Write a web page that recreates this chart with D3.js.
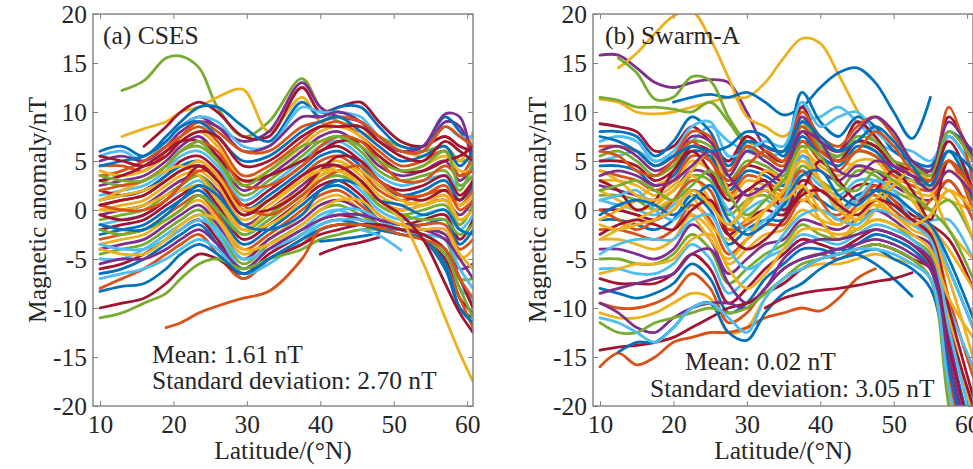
<!DOCTYPE html>
<meta charset="utf-8">
<style>
body { margin: 0; background: #fff; }
svg text { font-family: "Liberation Serif", "Times New Roman", serif; fill: #262626; }
.trace { fill: none; stroke-width: 2.8px; stroke-linejoin: round; stroke-linecap: round; }
.axis path { display: none; }
.axis line { stroke: #808080; }
.axis text { font-size: 25.5px; }
.frame { fill: none; stroke: #808080; stroke-width: 1.4px; }
.note { font-size: 25.5px; }
</style>
<svg width="973" height="469"></svg>
<script src="https://d3js.org/d3.v7.min.js"></script>
<script>

// tick values
var xTicks = [10, 20, 30, 40, 50, 60];
var yTicks = [-20, -15, -10, -5, 0, 5, 10, 15, 20];

// MATLAB default line colours
var palette = ["#0072BD", "#D95319", "#EDB120", "#7E2F8E", "#77AC30", "#4DBEEE", "#A2142F"];

// ---- (a) CSES : latitude grid and traces (nT) ----
var latA = [10, 13, 16, 19, 21, 23.5, 26, 29.5, 33, 37.5, 40, 42.5, 45.5, 48, 51, 54, 57, 59, 60.8];
var csesTraces = [
  [null, 12.2, 13.2, 15.5, 15.7, 14.5, 10.5, 7.5, 9, 13.4, 10.5, 9, 8.5, 7.5, 6.5, 6, 6.5, 5, 5.5],
  [null, 7.5, 8.3, 9, 10, 10.5, 11.5, 12.3, 8, 11.5, 9, 8.5, 8, 7, 6, 5.5, 6, 5, 8],
  [null, null, null, null, 8.5, 9.5, 8.5, 7, 8, 13, 10.5, 9.5, 9, 7.5, 6, 6, 9, 8.5, 5],
  [null, null, 6.5, 8.5, 10, 11, 10, 7.5, 7.5, 12.5, 10, 10.5, 11, 9, 7, 6.5, 7.5, 6.5, 6],
  [6, 6.5, 5.5, 7.5, 9, 10.5, 10.5, 8.5, 7, 11, 9.5, 10.5, 10.5, 8.5, 6.5, 6.5, 9.5, 8, 6.5],
  [5.5, 6, 5, 7, 8.5, 9.5, 9, 6.5, 6.5, 10.5, 10, 10, 9.5, 7.5, 6, 6, 8.5, 7.5, 7.5],
  [5, 5.5, 5, 6.5, 8, 9, 8.5, 6, 6.5, 9.5, 9.5, 10, 9, 7, 6, 6.5, 9.8, 9.5, 4],
  [4.5, 4.5, 4, 6, 7.5, 9, 8, 6, 6, 8.5, 9, 9.5, 9, 7.5, 6, 6, 8.5, 7.5, 6.5],
  [4.5, 5, 5.5, 7, 8.5, 9, 7.5, 5, 5.5, 8, 9, 9.5, 8, 6.5, 5, 5.5, 6.5, 4.5, 6],
  [3.5, 4, 5, 6.5, 7.5, 8.5, 7, 3.5, 4.5, 7, 8.5, 9, 7.5, 6, 4.5, 5, 6, 3.5, 5.5],
  [4, 3.5, 4, 5.5, 7, 8, 6.5, 3, 4, 6.5, 8, 8.5, 7.5, 5.5, 4, 4.5, 5.5, 4, 4],
  [2.5, 3, 3.5, 5, 6.5, 7.5, 5.5, 2, 3.5, 6, 7.5, 8, 6.5, 4.5, 3.5, 4, 5, 3, 4.5],
  [3, 2.5, 3, 4.5, 6, 6.5, 5, 1.5, 3, 5.5, 7, 7.5, 6, 4, 3, 3.5, 4, 2, 5],
  [1.5, 2, 2.5, 4, 5.5, 6, 4.5, 1, 2.5, 5, 6.5, 7, 5.5, 3.5, 2.5, 3, 3.5, 2.5, 3.5],
  [2, 1.5, 2, 3.5, 5, 5.5, 4, 0.5, 2, 4.5, 6, 6.5, 5, 3, 2, 2.5, 3.5, 1.5, 3],
  [1, 1.5, 2, 3.5, 4.5, 5, 3.5, 0, 1.5, 4, 5.5, 6, 4.5, 2.5, 1.5, 2, 3, 1, 2.5],
  [0.5, 1, 1.5, 3, 4, 4.5, 3, -0.5, 1, 3.5, 5, 5.5, 4, 2, 1, 1.5, 2, 0.5, 2],
  [0, 0.5, 1, 2.5, 3.5, 4, 2.5, -1, 0.5, 3, 4.5, 5, 3.5, 1.5, 0.5, 1, 1.5, 0.5, 1.5],
  [-0.5, 0, 0.5, 2, 3, 3.5, 2, -1.5, 0, 2.5, 4, 4.5, 3, 1, 0, 0.5, 1, -0.5, 1],
  [-1, -0.5, 0, 1.5, 2.5, 3.5, 1.5, -2, -0.5, 2, 3.5, 4, 2.5, 0.5, -0.5, 0, 0.5, -1.5, 0.5],
  [-1.5, -1, -0.5, 1, 2, 3, 1, -2.5, -1, 1.5, 3, 3.5, 2, 0, -1, -0.5, 0, -2, -0.5],
  [-2, -1.5, -1, 0.5, 1.5, 2.5, 0.5, -3, -1.5, 1, 2.5, 3, 1.5, -0.5, -1.5, -1, -0.5, -3, -1],
  [-2.5, -2, -1.5, 0, 1, 2, 0, -3.5, -2, 0.5, 2, 2.5, 1, -1, -1.5, -1.5, -1, -3.5, -2],
  [-3, -2.5, -2, -0.5, 0.5, 1.5, -0.5, -4, -2.5, 0, 1.5, 2, 0.5, -1, -2, -1.5, -1.5, -4, -3],
  [-3.5, -3, -2.5, -1, 0, 1, -1, -4.5, -3, -0.5, 1, 1.5, 0, -1.5, -2, -2, -2, -5, -4],
  [-4, -3.5, -3, -1.5, -0.5, 0.5, -1.5, -5, -3, -1, 0.5, 1, 0, -1.5, -2, -2, -2.5, -6, -5.5],
  [-4.5, -4, -3.5, -2, -1, 0, -2, -5.5, -3.5, -1.5, 0, 0.5, -0.5, -1.5, -2, -2.5, -3, -7, -7],
  [-5, -5, -4, -2.5, -1.5, -0.5, -2.5, -6, -4, -2, -0.5, 0, -1, -1.5, -2, -2.5, -4, -8, -9],
  [-6, -5.5, -4.5, -3, -2, -1, -3, -6.5, -4.5, -2.5, -1, -0.5, -1, -1.5, -2, -3, -5, -9, -10.5],
  [-6.5, -6, -5, -3.5, -2.5, -1.5, -3.5, -7, -5, -3, -1.5, -1, -1.5, -2, -2, -3, -6, -10, -11],
  [-8, -7, -6, -4.5, -3.5, -2.5, -4.5, -7, -5, -3.5, -2, -1.5, -1.5, -2, -2.5, -3, -5.5, -9, -12],
  [1, 2, 3, 4, 4.5, 3.5, 1, -2, 0, 2, 3.5, 4.5, 4, 2.5, 1, 0.5, 1, -1, 0],
  [-2, -2.5, -2, -1, 0, 1.5, 0, -2.5, -1, 1.5, 3, 3.5, 2.5, 0.5, -0.5, -1, -1, -2.5, -1.5],
  [3, 3.5, 4.5, 6, 7, 7, 5.5, 3, 3.5, 5, 6, 7, 7, 5.5, 4, 4, 5, 5.5, 6.5],
  [-3.5, -4, -4, -3, -2, -1, -2, -5, -4, -2.5, -1, 0, 0, -1, -2, -2.5, -3, -6, -8],
  [2, 2.5, 3, 4.5, 6, 7, 6, 2.5, 2.5, 4.5, 6.5, 7.5, 7, 5, 3, 3, 4.5, 3.5, 4],
  [-0.5, -1, -0.5, 1, 2.5, 4.5, 3.5, 0, 0, 2, 4, 5.5, 5, 3, 1.5, 1, 2, 1, 3],
  [0, 0, 0.5, 1.5, 2, 2.5, 1.5, -2, -1.5, 1, 3.5, 4, 3, 1, 0, 0.5, 1.5, -1, 0],
  [-1.5, -2, -2, -0.5, 1, 2.5, 1.5, -1.5, -2, -0.5, 2, 3, 2.5, 1, 0.5, -0.5, 0, -2, -2.5],
  [-5.5, -5, -5, -4, -3, -2, -3.5, -6, -4, -2, -1, -0.5, -0.5, -1, -1.5, -2, -3, -5, -7],
  [-7, -6.5, -6, -5, -4, -3, -4, -6.5, -5.5, -3, -1.5, -1, -1, -1.5, -2, -2.5, -4, -7, -9.5],
  [5.5, 5, 4.5, 5.5, 7, 8, 7.5, 4.5, 5, 7.5, 8.5, 8.5, 8.5, 7, 5.5, 5, 7, 6, 5],
  [3.5, 3, 3, 4.5, 6, 7, 5, 2.5, 4, 6.5, 7, 7.5, 6.5, 5, 4, 4.5, 6, 2.5, 3.5],
  [0.5, 0, 0, 1, 2.5, 4, 3.5, 0.5, -0.5, 1.5, 3, 4, 4.5, 3, 1.5, 1.5, 2.5, 0, 1],
  [-4, -4.5, -4.5, -3, -1.5, -0.5, -1, -4, -3.5, -1.5, 0, 1, 1, -0.5, -1.5, -2, -2, -4.5, -6],
  [-10, -9.5, -9, -7.5, -6, -4.5, -5, -6.5, -5, -3.5, -2.5, -2, -1.5, -1.5, -2, -2.5, -4, -7, -10],
  [-11, -10.5, -9.5, -8.5, -7, -5.5, -5, -6, -5, -4, -3, -2.5, -2, -2, -2.5, -3, -4.5, -8, -11],
  [-8.3, -7.8, -7.5, -6, -4.5, -3.5, -4.5, -6.5, -5, -3, -2, -1.5, -1.5, -2, -2.5, -3, -5.5, -10, -11.5],
  [null, null, null, -12, -11.5, -10.5, -9.8, -9, -8.3, -5, -2, -1.5, -1.5, -1.8, -2.5, -3, -4, -7, -9],
  [1, 1.5, 2, 3, 4, 5, 3.5, 0, 1, 3, 4, 4, 2.5, 1, -1, -5.4, -11, -14.6, -17.5],
  [0.5, 1, 1.5, 3, 4, 4.5, 3, -0.5, 1, 3.5, 4.5, 4.5, 3, 1, -0.5, -3, -7.5, -10.5, -12.5],
  [null, null, null, null, null, null, null, null, null, null, -3.2, -3, -2.7, -2.3, null, null, null, null, null],
  [null, null, null, null, null, null, null, null, null, null, -4.5, -3.8, -3.3, -2.8, null, null, null, null, null],
  [null, null, null, null, null, null, null, null, null, null, null, null, -2, -2.6, -4.1, null, null, null, null]
];
var csesColour = [4, 2, 3, 6, 0, 5, 3, 1,
  0, 1, 2, 3, 4, 5, 6, 0, 1, 2, 3, 4, 5, 6, 0, 1, 2, 3, 4, 5, 6, 0, 1,
  2, 4, 6, 5,
  1, 6, 2, 0, 3, 5, 6, 4, 1, 2,
  6, 4, 0, 1, 2, 6, 0, 6, 5];

// ---- (b) Swarm-A : latitude grid and traces (nT) ----
var latB = [10, 12.5, 15, 17.5, 20, 22.5, 25, 27.5, 30, 32.5, 35, 37.5, 40, 42.5, 45, 47.5, 50, 52.5, 55, 57.5, 60.8];
var swarmTraces = [
  [15.8, 15.8, 14.5, 13, 12.5, 13, 13.3, 13, 10, 6.5, 6, 7, 6, 5.5, 7, 6.5, 4.5, 3.5, 3, 7.5, 4],
  [null, 14.5, 16, 18, 19.8, 20.3, 17.5, 13.5, 9.5, 8.5, 7.5, 9, 6, 5, 4.5, 4, 3.5, 3, 2, 1, 0],
  [11.3, 11, 10, 9.8, 10, 10.5, 11, 11.5, 11.5, 13, 15.5, 17.5, 17, 13.8, 10.2, 7, 5, 4, 3, 2, 1],
  [null, null, null, null, 11, 11.5, 11.8, 11.5, 12, 11, 9.7, 10.5, 12.5, 14, 14.5, 13, 10, 7.3, 11.5, null, null],
  [null, 15.5, 14, 11.3, 11.5, 13.6, 13.2, 9.5, 7, 6.5, 6, 8.5, 7, 6, 7, 6, 4, 3, 3, 6, 2],
  [11.5, 11.2, 10.5, 10.5, 10.3, 10, 11, 9, 6.5, 5.5, 5, 8, 6.5, 5, 6, 5.5, 4, 3, 2.5, 5, 1],
  [5, 5.5, 6, 5, 5.5, 7, 8.5, 7, 6, 5.5, 6, 9, 9.5, 10.5, 9, 7, 6, 5, 4, 6, 3],
  [8.8, 8.5, 8, 6, 6.5, 8.5, 7, 5, 7.5, 6, 5, 10.5, 7, 6, 9, 7.5, 5, 4, 4, 9.5, 5],
  [8, 8, 7.5, 5.5, 7, 9.5, 8, 4.5, 7, 6.5, 6, 12, 9, 7.5, 9.5, 8.5, 6, 5, 4.5, 8, 6],
  [7, 7.5, 7, 5, 6, 8.5, 9, 5.5, 6, 7, 6.5, 11, 8.5, 9.5, 10, 8, 6.5, 6, 5, 7.5, 4],
  [6.5, 6.5, 6, 4.5, 5.5, 8, 7.5, 4, 6.5, 5.5, 4.5, 10, 7.5, 6.5, 8.5, 9.5, 7.5, 5, 3.5, 10.5, 3],
  [6, 6.5, 5.5, 4, 5, 7.5, 7, 3.5, 6, 5, 4, 9.5, 7, 6, 8, 9.5, 8, 5, 4, 9, 5.5],
  [5.5, 6, 5, 3.5, 4.5, 7, 6.5, 3, 5, 4.5, 3.5, 9, 6.5, 5.5, 7.5, 7, 5, 4.5, 3.5, 8, 5],
  [5, 5, 4.5, 3, 4, 6.5, 6, 2.5, 4.5, 4, 3, 8, 6, 5, 7, 6.5, 4.5, 3.5, 3, 7, 2],
  [4.5, 4.5, 4, 2.5, 3.5, 6, 5.5, 2, 4, 3.5, 2.5, 7.5, 5.5, 4.5, 6.5, 6, 4, 3, 2.5, 6, 1],
  [4, 3.5, 3, 2, 3, 5.5, 5, 1.5, 3.5, 3, 2, 7, 5, 4, 6, 5.5, 3.5, 2.5, 2, 5, 0],
  [3, 3, 2.5, 1.5, 2.5, 5, 4, 1, 3, 2.5, 1.5, 6, 4.5, 3.5, 5, 5, 3, 2, 1.5, 4, 2],
  [2.5, 2, 1.5, 1, 2, 4, 3.5, 0, 2, 2, 1, 5.5, 4, 3, 4.5, 4, 2.5, 1.5, 1, 3, -1],
  [1.5, 1.5, 1, 0, 1, 3.5, 3, -0.5, 1, 1.5, 0.5, 4.5, 3, 2, 4, 3.5, 2, 1, 0, 1, -3],
  [1, 0.5, 0, -0.5, 0.5, 3, 2, -1.5, 0, 1, 0, 4, 2.5, 1.5, 3, 3, 1.5, 0, -1, -1, -5],
  [0, 0, -0.5, -1, 0, 2, 1, -2.5, -1, 0, -0.5, 3, 2, 1, 2.5, 2.5, 1, -0.5, -1.5, -3, -8],
  [-1, -1, -1.5, -2, -1, 1.5, 0, -3.5, -2, -1, -1, 2, 1, 0, 1.5, 2, 0.5, -1, -2, -6, -12],
  [-2, -2, -2.5, -3, -2, 0.5, -1, -4.5, -3, -1.5, -1.5, 1, 0, -0.5, 1, 1.5, 0, -1.5, -2.5, -9, -17],
  [-3, -3, -3.5, -4, -3, -0.5, -2, -5.5, -4, -2.5, -2, 0, -1, -1.5, 0, 0.5, -0.5, -2, -3, -11, -21],
  [-4, -4, -4.5, -5, -4, -1.5, -3, -6.5, -5, -3.5, -3, -1, -1.5, -2, -1, 0, -1, -2.5, -3.5, -13, -24],
  [-5, -5, -5.5, -5.5, -4.5, -2.5, -4, -7.5, -6, -4.5, -3.5, -1.5, -2.5, -3, -2, -1, -1.5, -3, -4.5, -15, -27],
  [-6, -6, -6.5, -6.5, -5.5, -3.5, -5, -8.5, -7, -5, -4, -2.5, -3, -3.5, -2.5, -1.5, -2, -3, -5, -10, -16],
  [-7, -7.5, -7.5, -7.5, -6.5, -4.5, -6, -9.5, -8, -6, -4.5, -3, -3.5, -4, -3, -2, -2.5, -3.5, -5.5, -12, -20],
  [-8, -8.5, -9, -8.5, -7.5, -5.5, -7, -10.5, -9.5, -7, -5.5, -4, -4, -4.5, -3.5, -2.5, -3, -4, -6, -14, -23],
  [-9.5, -10, -10, -9.5, -8.5, -6.5, -8, -11.5, -10.5, -8, -6, -5, -4.5, -5, -4, -3.5, -4, -5, -7, -17, -28],
  [-10.5, -11, -11, -10.5, -9.5, -8.5, -9, -12.5, -12, -9, -7, -6, -5.5, -5.5, -5, -4.5, -5, -5.5, -7, -19, -30],
  [-1, 0, 1, 2.5, 3, 1.5, -1.5, -3, -1, 1, 3, 2, -1, -3, -1, 2, 3, 1, -1.5, -4, -8],
  [2, 1, 0, 0.5, 2, 3.5, 1, -2, 1, 4, 3, 1, 2, 0.5, -2, 0, 2.5, 3, 0, 2, -3],
  [0, -1, -2, -1, 1, 3, 2, -2, -1.5, 0, 1.5, 4, 1, -1, 0.5, 2.5, 1, -1, 1, 3, -1],
  [3, 2, 0, 1, 4, 6, 4, 1, 2, 3, 0, 2, 5, 3, 1, 2, 4, 2, -1, 5, 2],
  [1, 1.5, 2, 0, -1, 1, 2.5, 0, -2, -1, 1, 5.5, 3, 0, 1, 3, 2, -1, -2, -6, -12],
  [-3, -2, -1, 0, 1, -0.5, -3, -5, -3, 0, 2, 5, 3, 1, -1, 0, 2.5, 4, 2, -2, -5],
  [4, 3, 1.5, 1, 2, 4, 6, 2, -1, 0, 2, 6.5, 3, 0, -1, 1, 3, 1, -2, -7, -15],
  [6, 5.5, 4, 3.5, 5, 7, 5, 3, 4.5, 6, 5, 8.5, 6, 5, 6, 8, 6.5, 4, 3, 5, 2],
  [3.5, 4, 3.5, 2.5, 3, 4.5, 6, 3.5, 1.5, 2.5, 4, 8, 7, 4, 3.5, 5, 4.5, 3.5, 2, 4, 1.5],
  [2, 2.5, 3, 2, 1, 2.5, 4, 1.5, -0.5, 1, 3, 6.5, 5.5, 2.5, 2, 4, 3, 1.5, 0, -2, -7],
  [-0.5, 0.5, 1, 0.5, -0.5, 1, 2.5, -1, -2.5, -1.5, 0.5, 3.5, 4, 1.5, 0.5, 2, 1.5, 0, -1.5, -5, -11],
  [-2.5, -1.5, -1, -1.5, -2, 0, 1, -2.5, -4, -3, -1, 1.5, 2, 0.5, -0.5, 1, 0.5, -1, -2.5, -10, -19],
  [-4.5, -3.5, -3, -3, -3, -1, -0.5, -4, -6, -5, -2.5, -0.5, 0, -1, -1.5, 0, -0.5, -1.5, -3, -12, -22],
  [-6.5, -6, -5.5, -5.5, -5, -3, -2.5, -6, -8, -6.5, -4, -2, -2, -2.5, -2, -1, -1.5, -2.5, -4, -9, -13],
  [-8.5, -8, -7.5, -7, -6.5, -4.5, -4, -7.5, -9.5, -8, -5, -3.5, -3, -3, -2.5, -2, -2.5, -3.5, -5, -16, -27],
  [7.5, 7, 6, 4.5, 5.5, 6.5, 6, 6.5, 8, 7.5, 5.5, 9, 7.5, 6, 7, 8.5, 7, 4.5, 2.5, 6, 4],
  [-1.5, -2, -1.5, -1, 0, 2, 0.5, -1.5, 0.5, 2, 1, 2.5, 0, -1.5, 0, 1, -0.5, -1.5, -0.5, 2, 0],
  [-16, -14.6, -15.8, -15, -13.5, -13, -12.5, -12.5, -12, -11, -10.5, -10, -10.3, -9, -7, -6, null, null, null, null, null],
  [-14.3, -14, -13.8, -13.5, -13, -12, -11, -10, -9.5, -8.5, -7.5, -6, -5, -4.5, -4, -3.5, -4, -5, -6, -14, -24],
  [null, -14.5, -13.5, -13.5, -12, -10, -9.5, -12.5, -13.3, -10.5, -8.5, -7.5, -6, -5, -4.5, -4, -5, -6, -8, -16, -26],
  [null, null, null, null, null, null, null, null, null, null, null, -5, -4.5, -4, -4.5, -5.5, -7, -8.8, null, null, null],
  [null, null, null, null, null, null, null, null, null, -10, -9, -8.5, -8.2, -8, -7.7, -7.3, -7, -6.4, null, null, null],
  [-9.5, -10.5, -12, -12.5, -11, -10, -9.5, -9.5, -10, -8, -6, -5, -4.5, -4, -3.5, -3, -3.5, -4.5, -6, -15, -25],
  [-11.5, -12.5, -12.5, -11.5, -11, -10.5, -10, -10.5, -10, -8.5, -7, -5.5, -5, -4.5, -4, -3.5, -4, -5, -7, -20, -32],
  [-11, -11.5, -12.5, -13.5, -12, -10, -9.5, -11, -12.5, -9, -7, -6, -5, -4.5, -4, -4, -4.5, -5.5, -7, -18, -30]
];
var swarmColour = [3, 2, 2, 0, 4, 4, 5,
  6, 0, 5, 1, 3, 4, 6, 0,
  1, 2, 3, 4, 5, 6, 0, 1,
  2, 3, 4, 5, 6, 0, 1, 2,
  2, 2, 1, 6, 5, 2, 2,
  1, 3, 4, 0, 6, 5, 2, 3, 0, 2,
  1, 6, 0, 0, 6, 3, 4, 5];

var svg = d3.select("svg");
var plotTop = 14, plotBottom = 406, plotW = 380;

var y = d3.scaleLinear().domain([-20, 20]).range([plotBottom, plotTop]);

function drawPanel(id, left, lat, traces, colours, title, titleDx, stats) {
  var x = d3.scaleLinear().domain([9.05, 60.8]).range([left, left + plotW]);

  svg.append("clipPath").attr("id", "clip-" + id)
    .append("rect")
      .attr("x", left).attr("y", plotTop)
      .attr("width", plotW).attr("height", plotBottom - plotTop);

  var line = d3.line()
      .defined(function(d) { return d[1] !== null; })
      .x(function(d) { return x(d[0]); })
      .y(function(d) { return y(d[1]); })
      .curve(d3.curveCatmullRom.alpha(0.5));

  svg.append("g")
      .attr("clip-path", "url(#clip-" + id + ")")
    .selectAll("path")
    .data(traces)
    .enter().append("path")
      .attr("class", "trace")
      .attr("stroke", function(d, i) { return palette[colours[i]]; })
      .attr("d", function(d) { return line(d.map(function(v, j) { return [lat[j], v]; })); });

  // axes, MATLAB box style with inward ticks
  svg.append("g").attr("class", "axis")
      .attr("transform", "translate(0," + plotBottom + ")")
      .call(d3.axisBottom(x).tickValues(xTicks).tickSize(-5).tickPadding(9).tickFormat(function(d) { return String(d); }));
  svg.append("g").attr("class", "axis")
      .attr("transform", "translate(0," + plotTop + ")")
      .call(d3.axisTop(x).tickValues(xTicks).tickSize(-5).tickFormat(""));
  svg.append("g").attr("class", "axis")
      .attr("transform", "translate(" + left + ",0)")
      .call(d3.axisLeft(y).tickValues(yTicks).tickSize(-5).tickPadding(6).tickFormat(function(d) { return String(d); }));
  svg.append("g").attr("class", "axis")
      .attr("transform", "translate(" + (left + plotW) + ",0)")
      .call(d3.axisRight(y).tickValues(yTicks).tickSize(-5).tickFormat(""));

  svg.append("rect").attr("class", "frame")
      .attr("x", left).attr("y", plotTop)
      .attr("width", plotW).attr("height", plotBottom - plotTop);

  svg.append("text").attr("class", "note")
      .attr("x", left + titleDx).attr("y", 44)
      .text(title);

  svg.append("text").attr("class", "note")
      .attr("x", left + stats[0]).attr("y", stats[1])
      .text(stats[4]);
  svg.append("text").attr("class", "note")
      .attr("x", left + stats[2]).attr("y", stats[3])
      .text(stats[5]);

  svg.append("text").attr("class", "note")
      .attr("x", left + plotW / 2).attr("y", 459)
      .attr("text-anchor", "middle")
      .text("Latitude/(°N)");

  svg.append("text").attr("class", "note")
      .attr("transform", "translate(" + (left - 47) + "," + ((plotTop + plotBottom) / 2) + ") rotate(-90)")
      .attr("text-anchor", "middle")
      .text("Magnetic anomaly/nT");
}

drawPanel("a", 93, latA, csesTraces, csesColour, "(a) CSES", 10,
  [59, 363, 59, 389, "Mean: 1.61 nT", "Standard deviation: 2.70 nT"]);
drawPanel("b", 593, latB, swarmTraces, swarmColour, "(b) Swarm-A", 12,
  [92, 370, 57, 397, "Mean: 0.02 nT", "Standard deviation: 3.05 nT"]);

</script>
